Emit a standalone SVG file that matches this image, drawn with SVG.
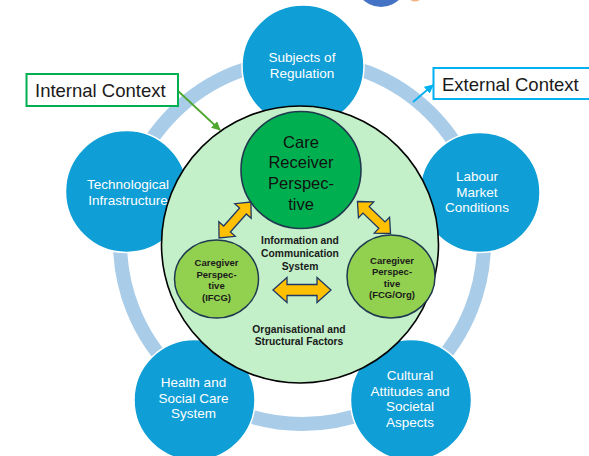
<svg xmlns="http://www.w3.org/2000/svg" width="589" height="456" viewBox="0 0 589 456">
<defs>
<style>
.sat{fill:#0f9ed5;stroke:#ffffff;stroke-width:1.5}
.st{font-family:"Liberation Sans",Arial,sans-serif;font-size:13.5px;fill:#ffffff;text-anchor:middle}
.cg{fill:#92d050;stroke:#1f3a4f;stroke-width:1.5}
.cgt{font-family:"Liberation Sans",Arial,sans-serif;font-size:9.5px;font-weight:bold;fill:#1a1a1a;text-anchor:middle}
.bt{font-family:"Liberation Sans",Arial,sans-serif;font-size:10.3px;font-weight:bold;fill:#1a1a1a;text-anchor:middle}
.arr{fill:#ffc000;stroke:#1f3864;stroke-width:1.3;stroke-linejoin:miter}
.lbl{font-family:"Liberation Sans",Arial,sans-serif;font-size:18.5px;fill:#1a1a1a}
</style>
<marker id="mg" viewBox="0 0 10 10" refX="9" refY="5" markerWidth="5" markerHeight="5" orient="auto"><path d="M0,0 L10,5 L0,10 z" fill="#4ea72e"/></marker>
<marker id="mc" viewBox="0 0 10 10" refX="9" refY="5" markerWidth="5" markerHeight="5" orient="auto"><path d="M0,0 L10,5 L0,10 z" fill="#00b0f0"/></marker>
</defs>
<rect width="589" height="456" fill="#ffffff"/>
<ellipse cx="381" cy="-29" rx="30" ry="36" fill="#4472c4"/>
<ellipse cx="415" cy="-3" rx="6" ry="4.5" fill="#f4b183"/>
<circle id="ring" cx="302" cy="242" r="182" fill="none" stroke="#a9cce8" stroke-width="14"/>
<g id="subjects"><circle class="sat" cx="303" cy="66" r="61"/><text class="st" x="302" y="62">Subjects of</text><text class="st" x="302" y="78">Regulation</text></g>
<g id="technological"><circle class="sat" cx="126.5" cy="191.5" r="61"/><text class="st" x="128" y="188.5">Technological</text><text class="st" x="128" y="204.5">Infrastructure</text></g>
<g id="labour"><circle class="sat" cx="480" cy="192.5" r="60"/><text class="st" x="477" y="181">Labour</text><text class="st" x="477" y="196.5">Market</text><text class="st" x="477" y="212">Conditions</text></g>
<g id="health"><circle class="sat" cx="194.5" cy="400" r="60.5"/><text class="st" x="193.5" y="387">Health and</text><text class="st" x="193.5" y="402.5">Social Care</text><text class="st" x="193.5" y="418">System</text></g>
<g id="cultural"><circle class="sat" cx="411" cy="400" r="60.5"/><text class="st" x="410" y="380">Cultural</text><text class="st" x="410" y="395.5">Attitudes and</text><text class="st" x="410" y="411">Societal</text><text class="st" x="410" y="426.5">Aspects</text></g>
<g id="internal-area"><circle cx="300" cy="244.5" r="138.5" fill="#c3efc9" stroke="#000000" stroke-width="1.6"/>
<text class="bt" x="300" y="244">Information and</text><text class="bt" x="300" y="257">Communication</text><text class="bt" x="300" y="270">System</text>
<text class="bt" x="299" y="333">Organisational and</text><text class="bt" x="299" y="345">Structural Factors</text></g>
<g id="care-receiver"><ellipse cx="301" cy="170" rx="60" ry="58.5" fill="#00b050" stroke="#1f3a4f" stroke-width="1.6"/>
<g font-family="'Liberation Sans',Arial,sans-serif" font-size="16.5" fill="#111" text-anchor="middle"><text x="301" y="147.5">Care</text><text x="301" y="168">Receiver</text><text x="301" y="189">Perspec-</text><text x="301" y="209.5">tive</text></g></g>
<g id="caregiver-ifcg"><ellipse class="cg" cx="216.5" cy="279" rx="42" ry="39"/><text class="cgt" x="216.5" y="266">Caregiver</text><text class="cgt" x="216.5" y="277.5">Perspec-</text><text class="cgt" x="216.5" y="289">tive</text><text class="cgt" x="216.5" y="300.5">(IFCG)</text></g>
<g id="caregiver-fcg"><ellipse class="cg" cx="391" cy="276.5" rx="44" ry="41.5"/><text class="cgt" x="392" y="263.5">Caregiver</text><text class="cgt" x="392" y="275">Perspec-</text><text class="cgt" x="392" y="286.5">tive</text><text class="cgt" x="392" y="298">(FCG/Org)</text></g>
<g id="connectors">
<polygon class="arr" transform="translate(302,290)" points="-29,0 -15,-12.5 -15,-5.5 15,-5.5 15,-12.5 29,0 15,12.5 15,5.5 -15,5.5 -15,12.5"/>
<polygon class="arr" transform="translate(235,220) rotate(-48.4)" points="-24,0 -12,-11 -12,-4.5 12,-4.5 12,-11 24,0 12,11 12,4.5 -12,4.5 -12,11"/>
<polygon class="arr" transform="translate(374,217.5) rotate(44)" points="-23,0 -11,-11 -11,-4.5 11,-4.5 11,-11 23,0 11,11 11,4.5 -11,4.5 -11,11"/>
<line x1="177" y1="90" x2="220" y2="130" stroke="#4ea72e" stroke-width="1.8" marker-end="url(#mg)"/>
<line x1="413" y1="102" x2="433" y2="85" stroke="#00b0f0" stroke-width="1.8" marker-end="url(#mc)"/>
</g>
<g id="internal-context"><rect x="26.5" y="74" width="151.5" height="32" fill="#ffffff" stroke="#00b050" stroke-width="2"/><text class="lbl" x="35" y="96.5">Internal Context</text></g>
<g id="external-context"><rect x="433.5" y="68" width="158" height="31" fill="#ffffff" stroke="#00b0f0" stroke-width="2"/><text class="lbl" x="442" y="90.5">External Context</text></g>
</svg>
